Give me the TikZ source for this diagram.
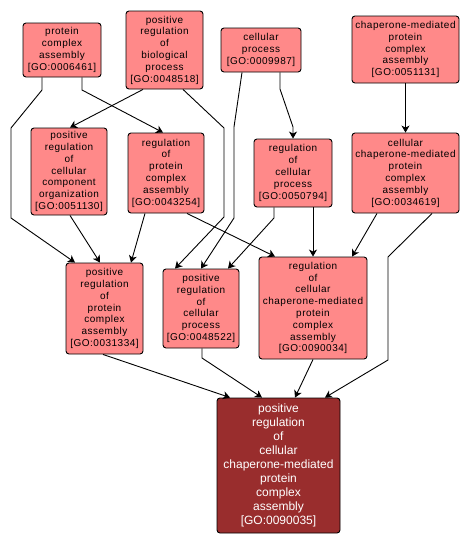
\documentclass[tikz,border=0pt]{standalone}
\usepackage{fontspec}
\setmainfont{Liberation Sans}
\newfontfamily\gosmall{Liberation Sans}[LetterSpace=5]
\newfontfamily\gobig{Liberation Sans}
\usetikzlibrary{arrows.meta}
\definecolor{gofill}{RGB}{255,137,137}
\definecolor{gotarget}{RGB}{153,45,45}
\begin{document}
\begin{tikzpicture}[x=1pt,y=-1pt,
  goterm/.style={draw=black, line width=0.9pt, fill=gofill, rounded corners=3pt,
    inner sep=0pt, align=center, font=\gosmall\fontsize{10}{11.8}\selectfont},
  gotgt/.style={draw=black, line width=0.9pt, fill=gotarget, rounded corners=3pt,
    inner sep=0pt, align=center, text=white, font=\gobig\fontsize{12}{14}\selectfont},
  edge/.style={draw=black, line width=0.9pt, -{Stealth[length=7pt,width=8pt,inset=2pt]}}]
\useasboundingbox (0,0) rectangle (470,546);
\fill[white] (0,0) rectangle (470,546);

\node[goterm, minimum width=78pt, minimum height=54pt] (pca) at (62,50) {protein\\complex\\assembly\\{[GO:0006461]}};
\node[goterm, minimum width=77pt, minimum height=78pt] (prbp) at (164.5,50) {positive\\regulation\\of\\biological\\process\\{[GO:0048518]}};
\node[goterm, minimum width=80pt, minimum height=44pt] (cp) at (261,50) {cellular\\process\\{[GO:0009987]}};
\node[goterm, minimum width=107pt, minimum height=67pt] (cmpca) at (405.5,49.5) {chaperone-mediated\\protein\\complex\\assembly\\{[GO:0051131]}};

\node[goterm, minimum width=76pt, minimum height=87pt] (prcco) at (69,171.5) {positive\\regulation\\of\\cellular\\component\\organization\\{[GO:0051130]}};
\node[goterm, minimum width=76pt, minimum height=80pt] (rpca) at (166,173) {regulation\\of\\protein\\complex\\assembly\\{[GO:0043254]}};
\node[goterm, minimum width=78pt, minimum height=68pt] (rcp) at (293,173) {regulation\\of\\cellular\\process\\{[GO:0050794]}};
\node[goterm, minimum width=107pt, minimum height=80pt] (ccmpca) at (405.5,173) {cellular\\chaperone-mediated\\protein\\complex\\assembly\\{[GO:0034619]}};

\node[goterm, minimum width=77pt, minimum height=91pt] (prpca) at (104.5,308.5) {positive\\regulation\\of\\protein\\complex\\assembly\\{[GO:0031334]}};
\node[goterm, minimum width=76pt, minimum height=79pt] (prcp) at (201,308.5) {positive\\regulation\\of\\cellular\\process\\{[GO:0048522]}};
\node[goterm, minimum width=108pt, minimum height=102pt] (rccmpca) at (313,308) {regulation\\of\\cellular\\chaperone-mediated\\protein\\complex\\assembly\\{[GO:0090034]}};

\node[gotgt, minimum width=123pt, minimum height=135pt] (target) at (278.5,465.5) {positive\\regulation\\of\\cellular\\chaperone-mediated\\protein\\complex\\assembly\\{[GO:0090035]}};

\draw[edge] (pca.south -| 42,0) -- (42,90) -- (11,128) -- (11,218) -- (prpca.north -| 75,0);
\draw[edge] (pca.south -| 82,0) -- (82,90) -- (rpca.north -| 163,0);
\draw[edge] (prbp.south -| 143,0) -- (prcco.north -| 70,0);
\draw[edge] (prbp.south -| 183,0) -- (224,128) -- (224,217) -- (prcp.north -| 175,0);
\draw[edge] (cp.south -| 242,0) -- (234,127) -- (234,218) -- (prcp.north -| 201,0);
\draw[edge] (cp.south -| 280,0) -- (280,89) -- (293,127) -- (rcp.north);
\draw[edge] (cmpca.south) -- (ccmpca.north);
\draw[edge] (prcco.south -| 70,0) -- (prpca.north -| 100,0);
\draw[edge] (rpca.south -| 145,0) -- (prpca.north -| 131,0);
\draw[edge] (rpca.south -| 187,0) -- (rccmpca.north -| 275,0);
\draw[edge] (rcp.south -| 274,0) -- (274,218) -- (prcp.north -| 228,0);
\draw[edge] (rcp.south -| 313,0) -- (rccmpca.north -| 313,0);
\draw[edge] (ccmpca.south -| 377,0) -- (rccmpca.north -| 352,0);
\draw[edge] (ccmpca.south -| 432,0) -- (388,257) -- (388,360) -- (target.north -| 325,0);
\draw[edge] (prpca.south -| 103,0) -- (target.north -| 230,0);
\draw[edge] (prcp.south -| 202,0) -- (202,358) -- (target.north -| 262,0);
\draw[edge] (rccmpca.south -| 313,0) -- (target.north -| 295,0);
\end{tikzpicture}
\end{document}
